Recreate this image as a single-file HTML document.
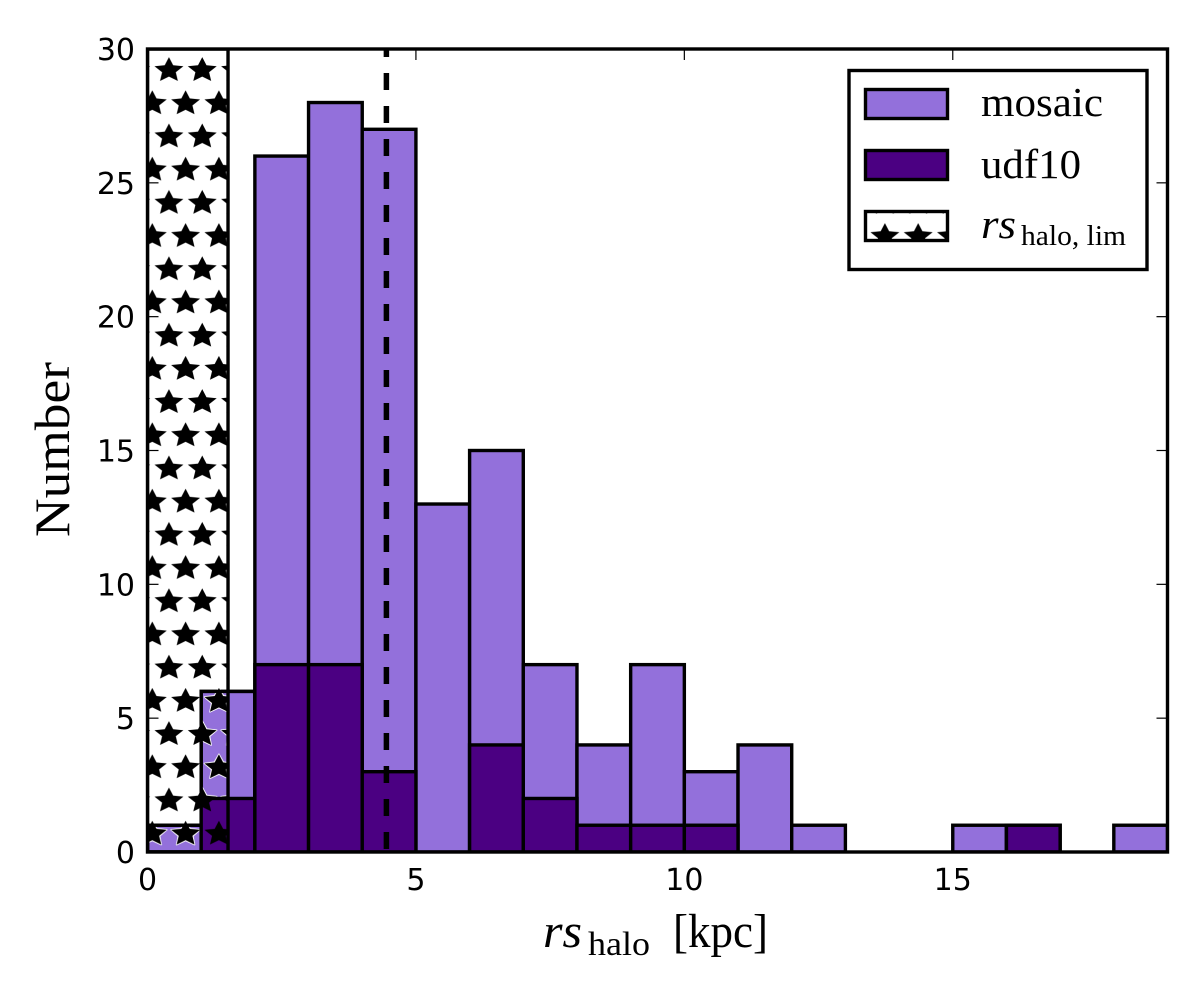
<!DOCTYPE html>
<html>
<head>
<meta charset="utf-8">
<style>
html,body{margin:0;padding:0;background:#fff;width:1200px;height:1003px;overflow:hidden}
svg{display:block}
.tick{font-family:"DejaVu Sans",sans-serif;font-size:30px;fill:#000}
.serif{font-family:"Liberation Serif",serif;fill:#000}
</style>
</head>
<body>
<svg id="chart" xmlns="http://www.w3.org/2000/svg" width="1200" height="1003" viewBox="0 0 1200 1003">
<defs>
<clipPath id="axes-clip"><rect x="147.5" y="49" width="1020" height="803"/></clipPath>
<pattern id="star-hatch" patternUnits="userSpaceOnUse" x="152.3" y="55" width="33.3" height="66.4"><g id="tile"></g></pattern>
<pattern id="star-halo" patternUnits="userSpaceOnUse" x="152.3" y="55" width="33.3" height="66.4"><g id="halo-tile"></g></pattern>
</defs>
<g id="plot" clip-path="url(#axes-clip)"></g>
<g id="overlay"></g>

<g>
<rect x="849" y="70.5" width="298" height="199" fill="#fff" stroke="#000" stroke-width="3.4"/>
<rect x="865.5" y="89.5" width="82" height="29" fill="#9370DB" stroke="#000" stroke-width="3.4"/>
<text class="serif" x="981" y="116" font-size="41" textLength="122" lengthAdjust="spacingAndGlyphs">mosaic</text>
<rect x="865.5" y="150.5" width="82" height="29" fill="#4B0082" stroke="#000" stroke-width="3.4"/>
<text class="serif" x="981" y="178" font-size="41" textLength="100" lengthAdjust="spacingAndGlyphs">udf10</text>
<rect x="865.5" y="211.5" width="82" height="29" fill="url(#star-hatch)" stroke="#000" stroke-width="3.4"/>
<text class="serif" x="981" y="238" font-size="41" font-style="italic" textLength="35" lengthAdjust="spacingAndGlyphs">rs</text>
<text class="serif" x="1021" y="245" font-size="29" textLength="105" lengthAdjust="spacingAndGlyphs">halo, lim</text>
</g>

<text class="serif" transform="translate(69,537) rotate(-90)" font-size="50" textLength="175" lengthAdjust="spacingAndGlyphs">Number</text>
<g>
<text class="serif" x="543" y="947" font-size="48" font-style="italic" textLength="39" lengthAdjust="spacingAndGlyphs">rs</text>
<text class="serif" x="588" y="955" font-size="34" textLength="62" lengthAdjust="spacingAndGlyphs">halo</text>
<text class="serif" x="673" y="947" font-size="48" textLength="95" lengthAdjust="spacingAndGlyphs">[kpc]</text>
</g>
</svg>
<script>
var binStarts = [0,1,2,3,4,5,6,7,8,9,10,11,12,13,14,15,16,17,18];
var mosaicCounts = [1,6,26,28,27,13,15,7,4,7,3,4,1,0,0,1,1,0,1];
var udf10Counts = [0,2,7,7,3,0,4,2,1,1,1,0,0,0,0,0,1,0,0];
var xTicks = [0,5,10,15];
var yTicks = [0,5,10,15,20,25,30];
var xDomain = [0,19];
var yDomain = [0,30];
var limitValue = 1.5;
var medianValue = 4.45;

var NS = 'http://www.w3.org/2000/svg';
function X(v){ return 147.5 + (v - xDomain[0]) / (xDomain[1] - xDomain[0]) * 1020; }
function Y(v){ return 852 - (v - yDomain[0]) / (yDomain[1] - yDomain[0]) * 803; }
function make(tag, attrs, parent){
  var el = document.createElementNS(NS, tag);
  for (var k in attrs) el.setAttribute(k, attrs[k]);
  parent.appendChild(el);
  return el;
}
function starPoints(cx, cy, R, r){
  var p = [];
  for (var i = 0; i < 10; i++){
    var a = -Math.PI / 2 + i * Math.PI / 5;
    var q = i % 2 ? r : R;
    p.push((cx + q * Math.cos(a)).toFixed(2) + ',' + (cy + 0.87 * q * Math.sin(a)).toFixed(2));
  }
  return p.join(' ');
}
var plot = document.getElementById('plot');
var overlay = document.getElementById('overlay');

var centers = [[16.65,15.3],[0,48.5],[33.3,48.5]];
centers.forEach(function(c){
  make('polygon', {points: starPoints(c[0], c[1], 15.2, 7.2), fill: '#000'}, document.getElementById('tile'));
  make('polygon', {points: starPoints(c[0], c[1], 15.2, 7.6), fill: '#fff', stroke: '#fff', 'stroke-width': 1.5, 'stroke-linejoin': 'round'}, document.getElementById('halo-tile'));
});

function barRect(i, counts, fill){
  return make('rect', {
    x: X(binStarts[i]), y: Y(counts[i]),
    width: X(binStarts[i] + 1) - X(binStarts[i]),
    height: Y(0) - Y(counts[i]),
    fill: fill, stroke: '#000', 'stroke-width': 3.4
  }, plot);
}
binStarts.forEach(function(b, i){
  if (mosaicCounts[i] <= 0) return;
  var el = barRect(i, mosaicCounts, '#9370DB');
  
  
});
var halo = make('rect', {x: X(0), y: Y(yDomain[1]), width: X(limitValue) - X(0), height: Y(0) - Y(yDomain[1]), fill: 'url(#star-halo)'}, plot);


binStarts.forEach(function(b, i){
  if (mosaicCounts[i] <= 0 || b >= limitValue) return;
  var el = barRect(i, mosaicCounts, 'none');
  
  
});
binStarts.forEach(function(b, i){
  if (udf10Counts[i] <= 0) return;
  var el = barRect(i, udf10Counts, '#4B0082');
  
  
});
var limit = make('rect', {x: X(0), y: Y(yDomain[1]), width: X(limitValue) - X(0), height: Y(0) - Y(yDomain[1]), fill: 'url(#star-hatch)', stroke: '#000', 'stroke-width': 3.4}, plot);


var median = make('line', {x1: X(medianValue), x2: X(medianValue), y1: Y(yDomain[1]), y2: Y(0), stroke: '#000', 'stroke-width': 5.5, 'stroke-dasharray': '17 16', 'stroke-dashoffset': 9}, plot);



xTicks.forEach(function(t){
  [[Y(0), Y(0) - 11],[Y(yDomain[1]), Y(yDomain[1]) + 11]].forEach(function(s){
    var tk = make('line', {x1: X(t), x2: X(t), y1: s[0], y2: s[1], stroke: '#000', 'stroke-width': 1.2}, overlay);
    
    
  });
  var lb = make('text', {x: X(t), y: 890, 'text-anchor': 'middle', 'class': 'tick'}, overlay);
  lb.textContent = t;
  
  
});
yTicks.forEach(function(t){
  [[X(xDomain[0]), X(xDomain[0]) + 11],[X(xDomain[1]), X(xDomain[1]) - 11]].forEach(function(s){
    var tk = make('line', {x1: s[0], x2: s[1], y1: Y(t), y2: Y(t), stroke: '#000', 'stroke-width': 1.2}, overlay);
    
    
  });
  var lb = make('text', {x: 135, y: Y(t) + 11, 'text-anchor': 'end', 'class': 'tick'}, overlay);
  lb.textContent = t;
  
  
});
var frame = make('rect', {x: X(xDomain[0]), y: Y(yDomain[1]), width: X(xDomain[1]) - X(xDomain[0]), height: Y(0) - Y(yDomain[1]), fill: 'none', stroke: '#000', 'stroke-width': 3.4}, overlay);


</script>
</body>
</html>
